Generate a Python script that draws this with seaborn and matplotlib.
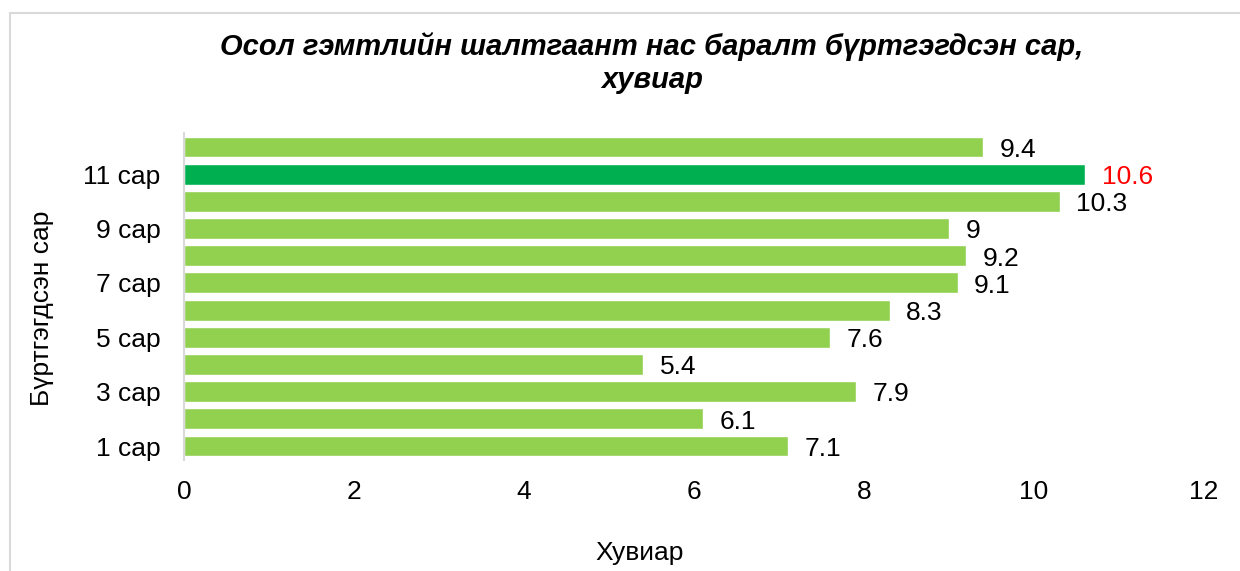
import matplotlib
matplotlib.use("Agg")
import matplotlib.pyplot as plt
from matplotlib.patches import Rectangle
import seaborn as sns
import pandas as pd

# Monthly share of injury-related deaths, percent
months = ["12 сар", "11 сар", "10 сар", "9 сар", "8 сар", "7 сар",
          "6 сар", "5 сар", "4 сар", "3 сар", "2 сар", "1 сар"]
values = [9.4, 10.6, 10.3, 9.0, 9.2, 9.1, 8.3, 7.6, 5.4, 7.9, 6.1, 7.1]
shown_ticks = ["11 сар", "9 сар", "7 сар", "5 сар", "3 сар", "1 сар"]
highlight = "11 сар"

title = "Осол гэмтлийн шалтгаант нас баралт бүртгэгдсэн сар,\nхувиар"
xlabel = "Хувиар"
ylabel = "Бүртгэгдсэн сар"
xticks = [0, 2, 4, 6, 8, 10, 12]

LIGHT = "#92D050"
DARK = "#00B050"
FS = 19

df = pd.DataFrame({"month": months, "value": values})

sns.set_theme(style="white")
plt.rcParams["font.family"] = ["Liberation Sans", "DejaVu Sans"]

fig = plt.figure(figsize=(12.4, 5.71), dpi=100)
ax = fig.add_axes([184 / 1240, 1 - 459.6 / 571, 1020 / 1240, 326.2 / 571])

palette = {m: (DARK if m == highlight else LIGHT) for m in months}
sns.barplot(data=df, y="month", x="value", hue="month", palette=palette,
            order=months, orient="h", width=0.77, saturation=1,
            legend=False, ax=ax)

ax.set_xlim(0, 12)
ax.set_ylim(len(months) - 0.5, -0.5)
ax.set_xticks(xticks)
ax.set_xticklabels([str(t) for t in xticks], fontsize=FS, color="#000000")
ax.set_yticks(range(len(months)))
ax.set_yticklabels([m if m in shown_ticks else "" for m in months],
                   fontsize=FS, color="#000000")
ax.tick_params(axis="y", length=0, pad=17)
ax.tick_params(axis="x", length=0, pad=15)

for side in ["top", "right", "bottom"]:
    ax.spines[side].set_visible(False)
ax.spines["left"].set_color("#D9D9D9")
ax.spines["left"].set_linewidth(1.5)

# value labels at the end of each bar
for container in ax.containers:
    for bar in container:
        v = bar.get_width()
        y = bar.get_y() + bar.get_height() / 2
        idx = int(round(y))
        color = "#FF0000" if months[idx] == highlight else "#000000"
        ax.annotate(f"{v:g}", xy=(v, y), xytext=(12, -2),
                    textcoords="offset points", va="center", ha="left",
                    fontsize=FS, color=color)

ax.set_xlabel("")
ax.set_ylabel("")
fig.text(640 / 1240, 1 - 553 / 571, xlabel, ha="center", va="center",
         fontsize=FS, color="#000000")
fig.text(42 / 1240, 1 - 308 / 571, ylabel, ha="center", va="center",
         rotation=90, fontsize=FS, color="#000000")

fig.text(652 / 1240, 1 - 63 / 571, title, ha="center", va="center",
         fontsize=21, fontweight="bold", fontstyle="italic",
         linespacing=1.25, color="#000000")

# chart-area frame
fig.patches.append(Rectangle((10 / 1240, -0.2), 1.2, 1.2 - 13 / 571,
                             transform=fig.transFigure, fill=False,
                             edgecolor="#D9D9D9", linewidth=1.5, zorder=0))

fig.savefig("out.png", dpi=100)
